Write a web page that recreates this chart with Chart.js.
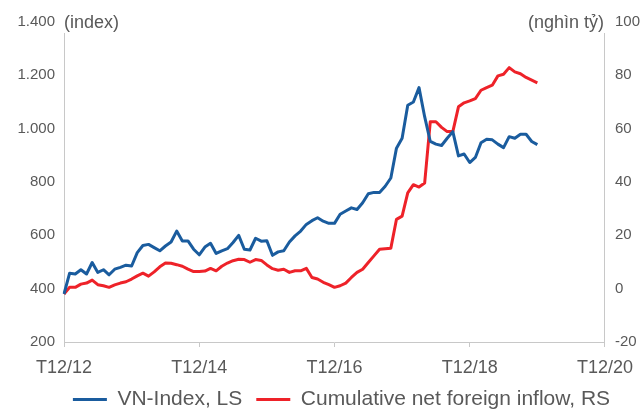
<!DOCTYPE html>
<html><head><meta charset="utf-8">
<script src="https://cdn.jsdelivr.net/npm/chart.js@4/dist/chart.umd.min.js"></script>
<style>html,body{margin:0;padding:0;background:#fff}#wrap{width:643px;height:412px;position:relative;overflow:hidden}canvas{display:block}</style>
</head><body><div id="wrap"><canvas id="c" width="643" height="412" style="width:643px;height:412px"></canvas></div>
<script>
// Monthly categories T12/12 ... T12/20 (Vietnamese "Tháng")
const months = [];
for (let m = 0; m <= 96; m++) {
  const mo = ((11 + m) % 12) + 1;
  const yr = 12 + Math.floor((11 + m) / 12);
  months.push('T' + mo + '/' + yr);
}
const xTickLabels = ['T12/12', 'T12/14', 'T12/16', 'T12/18', 'T12/20'];
const leftTickLabels = { 200: '200', 400: '400', 600: '600', 800: '800', 1000: '1.000', 1200: '1.200', 1400: '1.400' };
const rightTickLabels = { '-20': '-20', 0: '0', 20: '20', 40: '40', 60: '60', 80: '80', 100: '100' };

// VN-Index (left scale), Dec 2012 - Dec 2019
const vnIndex = [380, 458, 455, 471, 455, 498, 461, 471, 452, 473, 480, 488, 485,
  535, 562, 566, 554, 542, 560, 575, 616, 579, 579, 548, 527,
  556, 570, 532, 542, 550, 573, 600, 548, 545, 589, 578, 580,
  525, 538, 542, 575, 598, 616, 641, 655, 666, 653, 645, 645,
  679, 691, 703, 697, 722, 756, 761, 761, 784, 815, 927, 964,
  1088, 1100, 1154, 1045, 952, 942, 937, 964, 989, 898, 905, 873,
  892, 947, 960, 958, 942, 929, 970, 964, 979, 979, 952, 940];

// Cumulative net foreign inflow (right scale, nghìn tỷ)
const foreignInflow = [-2.0, 0.5, 0.5, 1.7, 2.1, 3.2, 1.5, 1.1, 0.5, 1.4, 2.1, 2.6, 3.6,
  4.8, 5.8, 4.7, 6.3, 8.2, 9.6, 9.5, 9.0, 8.4, 7.3, 6.4, 6.4,
  6.6, 7.6, 6.7, 8.4, 9.6, 10.5, 11.0, 10.9, 9.9, 10.9, 10.6, 8.9,
  7.5, 6.9, 7.3, 6.1, 6.7, 6.7, 7.6, 4.2, 3.6, 2.4, 1.5, 0.5,
  1.1, 2.1, 4.2, 6.1, 7.3, 9.8, 12.3, 14.8, 15.0, 15.2, 26.0, 27.2,
  35.9, 39.0, 38.1, 39.6, 62.6, 62.6, 60.5, 58.9, 58.9, 68.2, 69.7, 70.4,
  71.3, 74.4, 75.4, 76.3, 79.8, 80.4, 82.9, 81.3, 80.6, 79.2, 78.2, 77.2];

const seriesNames = ['VN-Index, LS', 'Cumulative net foreign inflow, RS'];
const unitLeft = '(index)';
const unitRight = '(nghìn tỷ)';

const BLUE = '#1a5c9e';
const RED = '#ee2229';
const TXT = '#595959';
const AXIS = '#c8c8c8';
const FONT = "'Liberation Sans', Arial, sans-serif";

const unitPlugin = {
  id: 'units',
  afterLayout(chart) {
    // legend in the reference sits slightly right of centre
    if (chart.legend) { chart.legend.left += 20; chart.legend.right += 20; }
  },
  afterDraw(chart) {
    const ctx = chart.ctx;
    const yL = chart.scales.y;
    const top = yL.getPixelForValue(1400);
    ctx.save();
    ctx.font = '18px ' + FONT;
    ctx.textBaseline = 'middle';
    ctx.fillStyle = '#fff';
    const wL = ctx.measureText(unitLeft).width;
    const wR = ctx.measureText(unitRight).width;
    const a = chart.chartArea;
    ctx.fillRect(a.left - 1, top - 11, wL + 4, 22);
    ctx.fillRect(a.right - wR - 3, top - 11, wR + 5, 22);
    ctx.fillStyle = TXT;
    ctx.textAlign = 'left';
    ctx.fillText(unitLeft, a.left, top + 1);
    ctx.textAlign = 'right';
    ctx.fillText(unitRight, a.right - 1, top + 1);
    ctx.restore();
  }
};

new Chart(document.getElementById('c'), {
  type: 'line',
  data: {
    labels: months,
    datasets: [
      { label: seriesNames[0], data: vnIndex, yAxisID: 'y', borderColor: BLUE, backgroundColor: BLUE,
        borderWidth: 3, pointRadius: 0, tension: 0, borderJoinStyle: 'round' },
      { label: seriesNames[1], data: foreignInflow, yAxisID: 'y1', borderColor: RED, backgroundColor: RED,
        borderWidth: 3, pointRadius: 0, tension: 0, borderJoinStyle: 'round' }
    ]
  },
  options: {
    responsive: false,
    animation: false,
    devicePixelRatio: 1,
    layout: { padding: { top: 22, left: 0, right: 0, bottom: -8 } },
    plugins: {
      tooltip: { enabled: false },
      legend: {
        position: 'bottom',
        labels: {
          color: TXT,
          font: { family: FONT, size: 21 },
          boxWidth: 34, boxHeight: 3, padding: 14,
          generateLabels(chart) {
            return chart.data.datasets.map((d, i) => ({
              text: d.label, fillStyle: d.borderColor, strokeStyle: d.borderColor,
              lineWidth: 0, hidden: false, datasetIndex: i, fontColor: TXT
            }));
          }
        }
      }
    },
    scales: {
      x: {
        type: 'category',
        offset: false,
        grid: {
          drawOnChartArea: false, drawTicks: true, tickLength: 5,
          tickColor: (c) => (c.tick && xTickLabels.includes(months[c.tick.value])) ? AXIS : 'rgba(0,0,0,0)'
        },
        border: { display: true, color: AXIS, width: 1 },
        ticks: {
          autoSkip: false, maxRotation: 0, padding: 10, color: TXT,
          font: { family: FONT, size: 18 },
          callback: function (v) { const l = months[v]; return xTickLabels.includes(l) ? l : ''; }
        },
        afterFit(s) { s.height = 33; }
      },
      y: {
        position: 'left', min: 200, max: 1400,
        grid: { display: false },
        border: { display: true, color: AXIS, width: 1 },
        ticks: { stepSize: 200, padding: 1, color: TXT, font: { family: FONT, size: 15 },
          callback: (v) => leftTickLabels[v] },
        afterFit(s) { s.width = 64; }
      },
      y1: {
        position: 'right', min: -20, max: 100,
        grid: { display: false },
        border: { display: true, color: AXIS, width: 1 },
        ticks: { stepSize: 20, padding: 2, color: TXT, font: { family: FONT, size: 15 },
          callback: (v) => rightTickLabels[v] },
        afterFit(s) { s.width = 37; }
      }
    }
  },
  plugins: [unitPlugin]
});
</script></body></html>
